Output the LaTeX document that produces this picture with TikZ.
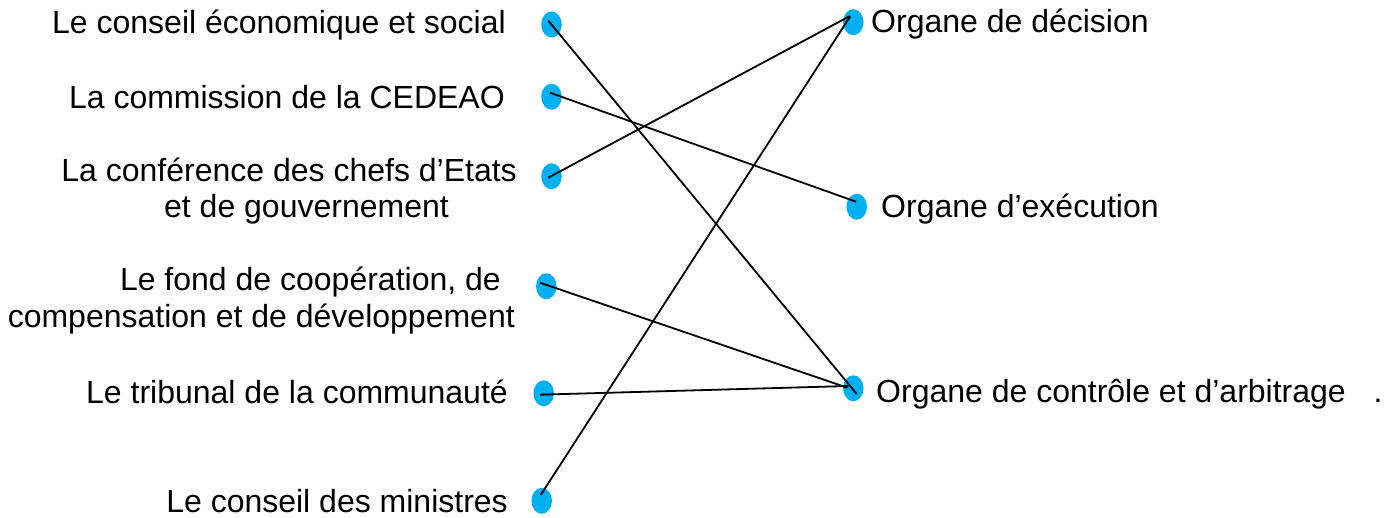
\documentclass[tikz,border=0pt]{standalone}
\usepackage{fontspec}
\setmainfont{Liberation Sans}
\usetikzlibrary{shapes.geometric}
\definecolor{dotblue}{HTML}{00B0F0}
\begin{document}
\begin{tikzpicture}[x=1pt,y=-1pt,
  dotnode/.style={ellipse,fill=dotblue,draw=none,inner sep=0pt,minimum width=20.5pt,minimum height=26pt},
  lbl/.style={inner sep=0pt,font=\fontsize{32pt}{36pt}\selectfont},
  lleft/.style={lbl,anchor=base east,align=right},
  lright/.style={lbl,anchor=base west},
  link/.style={line width=1.8pt,black}]
\useasboundingbox (0,0) rectangle (1394,518);

% left labels
\node[lleft] (tcs)   at (506,34)  {Le conseil économique et social};
\node[lleft] (tcom)  at (505,109) {La commission de la CEDEAO};
\node[lleft] (tconf) at (517,218) {La conférence des chefs d’Etats\\et de gouvernement\makebox[68pt]{}};
\node[lleft] (tfond) at (515,327) {Le fond de coopération, de\makebox[14pt]{}\\compensation et de développement};
\node[lleft] (ttrib) at (508,403) {Le tribunal de la communauté};
\node[lleft] (tmin)  at (508,512) {Le conseil des ministres};

% right labels
\node[lright] (tdec)  at (871,33)  {Organe de décision};
\node[lright] (texe)  at (881,218) {Organe d’exécution};
\node[lright] (tctrl) at (876,402) {Organe de contrôle et d’arbitrage\makebox[28pt]{}.};

% dots
\node[dotnode] (L1) at (551.5,24.5) {};
\node[dotnode] (L2) at (551.5,96.7) {};
\node[dotnode] (L3) at (551.5,176.3) {};
\node[dotnode] (L4) at (546.3,286.3) {};
\node[dotnode] (L5) at (543.7,393.3) {};
\node[dotnode] (L6) at (541.7,500.8) {};
\node[dotnode] (R1) at (853.3,22.2) {};
\node[dotnode] (R2) at (856.7,206.7) {};
\node[dotnode] (R3) at (853.3,388.3) {};

% connectors
\draw[link] ([xshift=-3.2pt,yshift=3.8pt]L1.center) -- ([xshift=3.4pt,yshift=-5.7pt]R3.center);
\draw[link] ([xshift=-1.5pt,yshift=4pt]L2.center) -- ([xshift=-0.7pt,yshift=5pt]R2.center);
\draw[link] ([xshift=-3.2pt,yshift=-1.4pt]L3.center) -- ([xshift=-3.3pt,yshift=6.2pt]R1.center);
\draw[link] ([xshift=-6.3pt,yshift=3.6pt]L4.center) -- ([xshift=-6pt,yshift=0.6pt]R3.center);
\draw[link] ([xshift=-3.7pt,yshift=-1.4pt]L5.center) -- ([xshift=-5pt,yshift=2.3pt]R3.center);
\draw[link] ([xshift=-1pt,yshift=5.8pt]L6.center) -- ([xshift=-3.3pt,yshift=5.5pt]R1.center);
\end{tikzpicture}
\end{document}
